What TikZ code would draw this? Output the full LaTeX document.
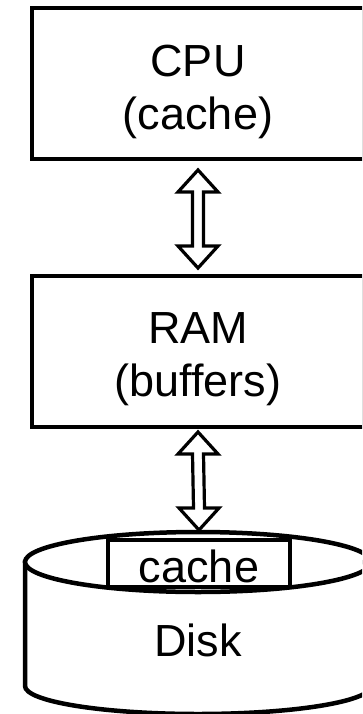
\documentclass[tikz,border=0pt]{standalone}
\usepackage{fontspec}
\setmainfont{Liberation Sans}
\usetikzlibrary{calc}
\tikzset{
  box/.style={draw, line width=4.5pt, fill=white, minimum width=332pt, minimum height=151pt,
    inner sep=0pt, outer sep=0pt},
  hollow/.style={draw, fill=white, line width=3.2pt, line join=miter},
  disk/.style={draw, line width=4.5pt, fill=white},
  lbl/.style={inner sep=0pt, align=center, font=\fontsize{45}{53}\selectfont},
}
\begin{document}
\begin{tikzpicture}[x=1pt,y=-1pt]
\useasboundingbox (0,0) rectangle (362,714);
\clip (0,0) rectangle (362,714);
\node[box] (cpu) at (198,83.5) {};
\node[lbl] (cputext) at ($(cpu.center)+(0,8)$) {CPU\\(cache)};
\node[box] (ram) at (198,351.5) {};
\node[lbl] (ramtext) at ($(ram.center)+(0,8)$) {RAM\\(buffers)};
% disk cylinder
\coordinate (dtop) at (198,562);
\coordinate (dbot) at (198,686);
\path[disk] ($(dtop)+(-173,0)$) -- ($(dbot)+(-173,0)$) arc[start angle=180, end angle=0, x radius=173, y radius=28]
  -- ($(dtop)+(173,0)$) -- cycle;
\draw[disk] (dtop) ellipse[x radius=173, y radius=30];
\node[draw, line width=4.5pt, fill=white, minimum width=182pt, minimum height=47pt, inner sep=0pt, outer sep=0pt,
  anchor=north] (dcache) at (199,540) {};
\node[lbl, anchor=base] (dcachetext) at (199,582) {cache};
\node[lbl] (disk) at (198,640) {Disk};
% arrows
\coordinate (a1t) at ($(cpu.south)+(0,11)$);
\coordinate (a1b) at ($(ram.north)+(0,-8)$);
\draw[hollow] (a1t) -- ($(a1t)+(20,22)$) -- ($(a1t)+(5.5,22)$) -- ($(a1b)+(5.5,-22)$) -- ($(a1b)+(20,-22)$) -- (a1b)
  -- ($(a1b)+(-20,-22)$) -- ($(a1b)+(-5.5,-22)$) -- ($(a1t)+(-5.5,22)$) -- ($(a1t)+(-20,22)$) -- cycle;
\coordinate (a2t) at ($(ram.south)+(0,5)$);
\coordinate (a2b) at ($(dcache.north)+(0,-10)$);
\draw[hollow] (a2t) -- ($(a2t)+(20,22)$) -- ($(a2t)+(5.5,22)$) -- ($(a2b)+(5.5,-22)$) -- ($(a2b)+(20,-22)$) -- (a2b)
  -- ($(a2b)+(-20,-22)$) -- ($(a2b)+(-5.5,-22)$) -- ($(a2t)+(-5.5,22)$) -- ($(a2t)+(-20,22)$) -- cycle;
\end{tikzpicture}
\end{document}
